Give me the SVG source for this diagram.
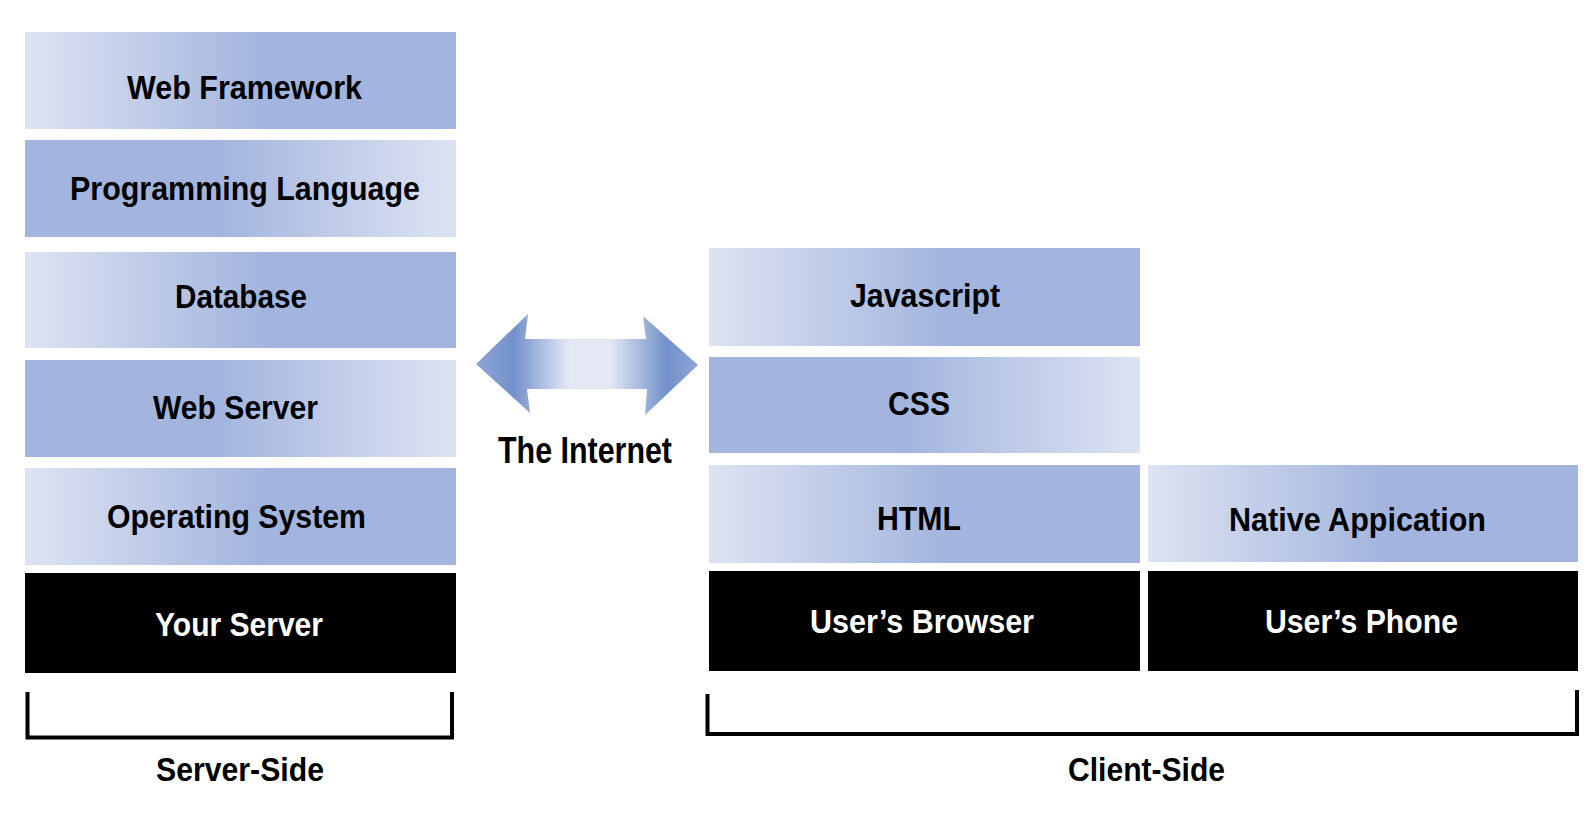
<svg xmlns="http://www.w3.org/2000/svg" width="1595" height="818" viewBox="0 0 1595 818">
<style>
  .lbl { font-family: "Liberation Sans", Arial, sans-serif; font-weight: bold; font-size: 34px; fill: #000; text-anchor: middle; }
  .wl { fill: #fff; }
  .blk { fill: #000; }
  .br { fill: none; stroke: #000; stroke-width: 4; stroke-linecap: square; }
</style>
<defs>
  <linearGradient id="gL" x1="0" y1="0" x2="1" y2="0">
    <stop offset="0" stop-color="#dde3f2"/>
    <stop offset="0.55" stop-color="#a3b5de"/>
    <stop offset="1" stop-color="#a3b5de"/>
  </linearGradient>
  <linearGradient id="gR" x1="0" y1="0" x2="1" y2="0">
    <stop offset="0" stop-color="#a3b5de"/>
    <stop offset="0.45" stop-color="#a3b5de"/>
    <stop offset="1" stop-color="#dde3f2"/>
  </linearGradient>
  <linearGradient id="gA" gradientUnits="userSpaceOnUse" x1="476" y1="0" x2="698" y2="0">
    <stop offset="0" stop-color="#8ea6d7"/>
    <stop offset="0.17" stop-color="#7290ca"/>
    <stop offset="0.42" stop-color="#e4e9f5"/>
    <stop offset="0.60" stop-color="#e4e9f5"/>
    <stop offset="0.86" stop-color="#7290ca"/>
    <stop offset="1" stop-color="#8ea6d7"/>
  </linearGradient>
</defs>
<rect width="1595" height="818" fill="#fff"/>

<g id="web-framework">
  <rect x="25" y="32" width="431" height="97" fill="url(#gL)"/>
  <text class="lbl" x="244.5" y="99" textLength="235" lengthAdjust="spacingAndGlyphs">Web Framework</text>
</g>
<g id="programming-language">
  <rect x="25" y="140" width="431" height="97" fill="url(#gR)"/>
  <text class="lbl" x="245" y="200" textLength="350" lengthAdjust="spacingAndGlyphs">Programming Language</text>
</g>
<g id="database">
  <rect x="25" y="252" width="431" height="96" fill="url(#gL)"/>
  <text class="lbl" x="241" y="308" textLength="132" lengthAdjust="spacingAndGlyphs">Database</text>
</g>
<g id="web-server">
  <rect x="25" y="360" width="431" height="97" fill="url(#gR)"/>
  <text class="lbl" x="235.5" y="419" textLength="165" lengthAdjust="spacingAndGlyphs">Web Server</text>
</g>
<g id="operating-system">
  <rect x="25" y="468" width="431" height="97" fill="url(#gL)"/>
  <text class="lbl" x="236.5" y="528" textLength="259" lengthAdjust="spacingAndGlyphs">Operating System</text>
</g>
<g id="your-server">
  <rect class="blk" x="25" y="573" width="431" height="100"/>
  <text class="lbl wl" x="239" y="636" textLength="168" lengthAdjust="spacingAndGlyphs">Your Server</text>
</g>

<g id="javascript">
  <rect x="709" y="248" width="431" height="98" fill="url(#gL)"/>
  <text class="lbl" x="925" y="307" textLength="150" lengthAdjust="spacingAndGlyphs">Javascript</text>
</g>
<g id="css">
  <rect x="709" y="357" width="431" height="96" fill="url(#gR)"/>
  <text class="lbl" x="919" y="415" textLength="62" lengthAdjust="spacingAndGlyphs">CSS</text>
</g>
<g id="html">
  <rect x="709" y="465" width="431" height="98" fill="url(#gL)"/>
  <text class="lbl" x="919" y="530" textLength="84" lengthAdjust="spacingAndGlyphs">HTML</text>
</g>
<g id="native-application">
  <rect x="1148" y="465" width="430" height="97" fill="url(#gL)"/>
  <text class="lbl" x="1357.5" y="531" textLength="257" lengthAdjust="spacingAndGlyphs">Native Appication</text>
</g>
<g id="users-browser">
  <rect class="blk" x="709" y="571" width="431" height="100"/>
  <text class="lbl wl" x="922" y="633" textLength="224" lengthAdjust="spacingAndGlyphs">User’s Browser</text>
</g>
<g id="users-phone">
  <rect class="blk" x="1148" y="571" width="430" height="100"/>
  <text class="lbl wl" x="1361.5" y="633" textLength="193" lengthAdjust="spacingAndGlyphs">User’s Phone</text>
</g>

<g id="connectors">
  <g id="the-internet">
    <polygon points="476,364 528,314 525,339 646,339 643,316 698,365 645,415 647,389 527,389 530,413" fill="url(#gA)"/>
    <text class="lbl" x="585" y="463" style="font-size:36px" textLength="174" lengthAdjust="spacingAndGlyphs">The Internet</text>
  </g>
  <g id="server-side">
    <polyline class="br" points="27.5,694 27.5,737.5 452,737.5 452,694"/>
    <text class="lbl" x="240" y="781" textLength="168" lengthAdjust="spacingAndGlyphs">Server-Side</text>
  </g>
  <g id="client-side">
    <polyline class="br" points="707.5,696 707.5,734 1577,734 1577,692"/>
    <text class="lbl" x="1146.5" y="781" textLength="157" lengthAdjust="spacingAndGlyphs">Client-Side</text>
  </g>
</g>
</svg>
